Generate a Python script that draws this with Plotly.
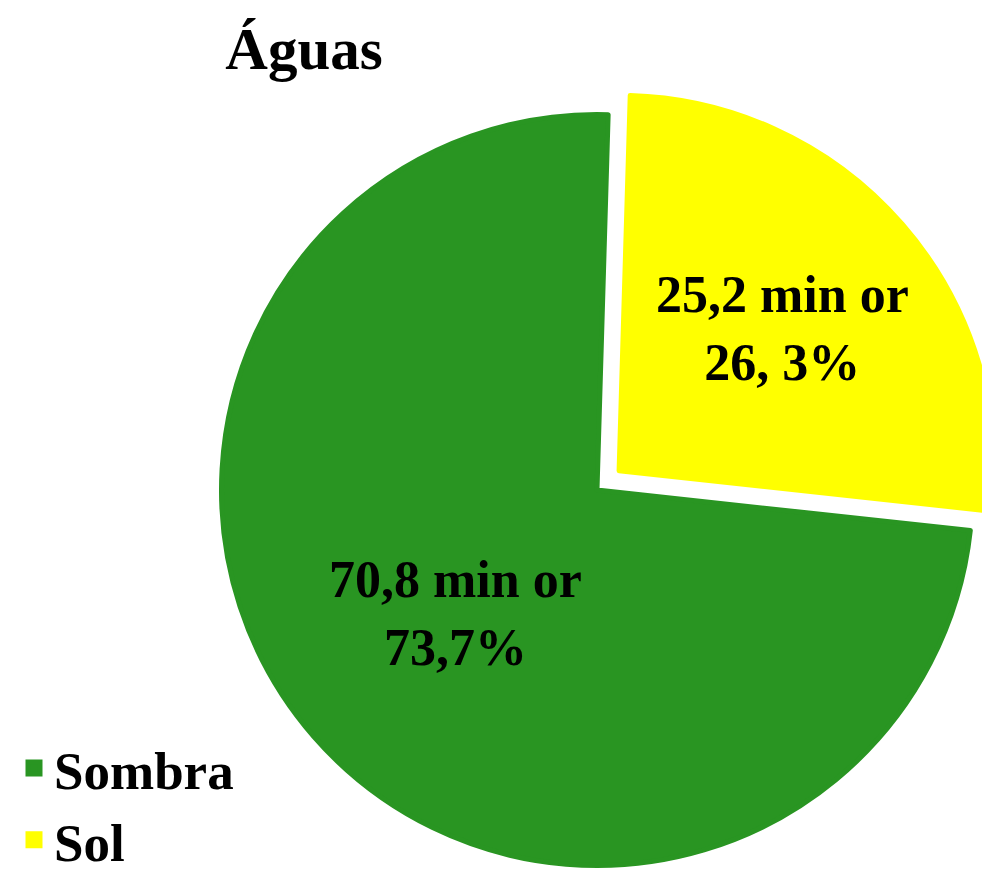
import plotly.graph_objects as go

labels = ["Sombra", "Sol"]
values = [70.8, 25.2]
slice_text = ["70,8 min or<br>73,7%", "25,2 min or<br>26, 3%"]
colors = ["#299522", "#ffff00"]
pulls = [0, 0.078]

# figure canvas (the page adds an 8 px body margin; content beyond the window is not shown)
W, H = 1010, 900
cx, cy = 589, 482
border = 5
radius = 378 - border / 2
half = radius * (1 + max(pulls))

fig = go.Figure(go.Pie(
    labels=labels,
    values=values,
    text=slice_text,
    textinfo="text",
    textposition="inside",
    insidetextorientation="horizontal",
    sort=False,
    direction="clockwise",
    rotation=96.2,
    pull=pulls,
    marker=dict(colors=colors, line=dict(width=border, color=colors)),
    textfont=dict(family="Liberation Serif", size=52, color="black", weight="bold"),
    hoverinfo="label+value+percent",
    domain=dict(x=[(cx - half) / W, min(1, (cx + half) / W)],
                y=[max(0, (H - cy - half) / H), min(1, (H - cy + half) / H)]),
))

fig.update_layout(
    width=W, height=H,
    margin=dict(l=0, r=0, t=0, b=0, autoexpand=False),
    paper_bgcolor="white",
    plot_bgcolor="white",
    title=dict(text="Águas", x=296 / W, xanchor="center", xref="paper",
               y=1 - 40 / H, yref="container", yanchor="middle",
               font=dict(family="Liberation Serif", size=59, color="black", weight="bold")),
    showlegend=True,
    legend=dict(x=6 / W, xanchor="left", xref="container",
                y=27 / H, yanchor="bottom", yref="container",
                font=dict(family="Liberation Serif", size=53, color="black", weight="bold"),
                bgcolor="rgba(0,0,0,0)", traceorder="normal"),
)

fig.write_html("out.html")
